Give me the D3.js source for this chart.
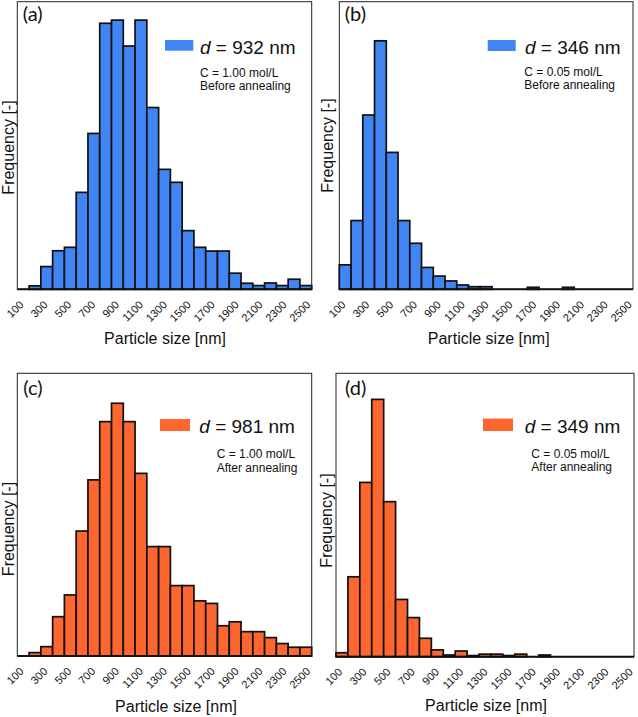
<!DOCTYPE html>
<html>
<head>
<meta charset="utf-8">
<script src="https://cdn.jsdelivr.net/npm/d3@7"></script>
<style>
  html, body { margin: 0; padding: 0; background: #fff; }
  svg { display: block; }
</style>
</head>
<body>
<svg id="chart" width="638" height="717"></svg>
<script>
// ---------------- data ----------------
const bins = [100,200,300,400,500,600,700,800,900,1000,1100,1200,1300,1400,1500,1600,1700,1800,1900,2000,2100,2200,2300,2400,2500];
const tickLabels = ["100","300","500","700","900","1100","1300","1500","1700","1900","2100","2300","2500"];

// relative frequency (arbitrary units, 100 = top of the frame)
const freqA = [0,1.2,7.9,13.4,14.6,33.7,54.2,92.5,93.6,84.6,93.6,63.2,41.7,37.2,20.4,14.6,13.3,13.3,5.6,2.1,1.3,2.2,1.3,3.5,1.3];
const freqB = [8.5,23.9,60.6,86.4,47.6,23.9,16.0,7.6,4.6,2.9,1.5,0.9,0.9,0,0,0,0.7,0,0,0.7,0,0,0,0,0];
const freqC = [0,1.2,3.3,13.9,21.6,44.2,62.3,82.9,89.4,82.9,64.6,38.7,38.7,24.9,24.9,19.5,18.6,10.7,12.1,8.6,8.6,6.5,4.4,3.1,3.1];
const freqD = [1.4,28.2,61.5,90.8,54.7,20.2,13.8,6.5,2.4,0.6,2.0,0.4,0.9,0.9,0.4,0.9,0,0.6,0,0,0,0,0,0,0];

const panelLetters = ["(a)","(b)","(c)","(d)"];
const meanSizes = ["932","346","981","349"];
const concentrations = ["C = 1.00 mol/L","C = 0.05 mol/L","C = 1.00 mol/L","C = 0.05 mol/L"];
const conditions = ["Before annealing","Before annealing","After annealing","After annealing"];
const xTitle = "Particle size [nm]";
const yTitle = "Frequency [-]";

// ---------------- layout / style ----------------
const BLUE = "#4184f3";
const ORANGE = "#fe6630";
const FONT = "'Liberation Sans', Arial, Helvetica, sans-serif";

const layout = [
  {data: freqA, color: BLUE,   x0: 17.3,  x1: 311.7, y0: 1.7,   y1: 289.3,
   letter: [22.7, 21], rect: [165, 40, 28.3, 10.7], dtxt: [200, 53.5], ctxt: [200, 76.5], ntxt: [200, 89.5],
   xt: [165, 344], yt: [13.5, 147.5]},
  {data: freqB, color: BLUE,   x0: 339.3, x1: 633,   y0: 1.7,   y1: 289.3,
   letter: [344.7, 21], rect: [487.7, 40, 28, 11], dtxt: [525, 53.5], ctxt: [524.3, 76], ntxt: [524.3, 89],
   xt: [488.7, 344], yt: [333, 145.5]},
  {data: freqC, color: ORANGE, x0: 17.3,  x1: 311.7, y0: 373.3, y1: 656,
   letter: [23.3, 394.5], rect: [160, 419, 30, 12], dtxt: [199.3, 433.3], ctxt: [216.7, 458.3], ntxt: [216.7, 471.5],
   xt: [176, 712], yt: [13.5, 529]},
  {data: freqD, color: ORANGE, x0: 336,   x1: 634,   y0: 373.3, y1: 656.7,
   letter: [345, 394.5], rect: [483, 418.5, 30, 12.5], dtxt: [524.7, 433.3], ctxt: [531.3, 458], ntxt: [531.3, 471],
   xt: [486, 711], yt: [332, 520.5]}
];

const svg = d3.select("#chart");

layout.forEach((p, i) => {
  const g = svg.append("g");
  const x = d3.scaleBand().domain(bins).range([p.x0, p.x1]).padding(0);
  const y = d3.scaleLinear().domain([0, 100]).range([p.y1, p.y0]);

  // frame
  g.append("rect")
    .attr("x", p.x0).attr("y", p.y0)
    .attr("width", p.x1 - p.x0).attr("height", p.y1 - p.y0)
    .attr("fill", "none").attr("stroke", "#222").attr("stroke-width", 1);

  // bars
  g.selectAll("rect.bar")
    .data(bins.map((b, k) => ({bin: b, v: p.data[k]})).filter(d => d.v > 0))
    .join("rect")
    .attr("class", "bar")
    .attr("x", d => x(d.bin))
    .attr("width", x.bandwidth())
    .attr("y", d => y(d.v))
    .attr("height", d => y(0) - y(d.v))
    .attr("fill", p.color)
    .attr("stroke", "#111")
    .attr("stroke-width", 1.7);

  // baseline
  g.append("line")
    .attr("x1", p.x0).attr("x2", p.x1)
    .attr("y1", y(0)).attr("y2", y(0))
    .attr("stroke", "#111").attr("stroke-width", 2);

  // tick labels (rotated)
  const lx = d3.scaleLinear().domain([100, 2500]).range([p.x0 + 7, p.x1 - 0.5]);
  g.selectAll("text.tick")
    .data(tickLabels)
    .join("text")
    .attr("class", "tick")
    .attr("transform", d => `translate(${lx(+d)},${p.y1 + 16}) rotate(-45)`)
    .attr("text-anchor", "end")
    .attr("font-family", FONT)
    .attr("font-size", 11)
    .attr("fill", "#111")
    .text(d => d);

  // axis titles
  g.append("text")
    .attr("x", p.xt[0]).attr("y", p.xt[1])
    .attr("text-anchor", "middle")
    .attr("font-family", FONT).attr("font-size", 16).attr("fill", "#111")
    .text(xTitle);
  g.append("text")
    .attr("transform", `translate(${p.yt[0]},${p.yt[1]}) rotate(-90)`)
    .attr("text-anchor", "middle")
    .attr("font-family", FONT).attr("font-size", 16).attr("fill", "#111")
    .text(yTitle);

  // panel letter
  g.append("text")
    .attr("x", p.letter[0]).attr("y", p.letter[1])
    .attr("font-family", "Lato, 'Open Sans', sans-serif").attr("font-size", 20).attr("fill", "#111")
    .text(panelLetters[i]);

  // legend
  g.append("rect")
    .attr("x", p.rect[0]).attr("y", p.rect[1])
    .attr("width", p.rect[2]).attr("height", p.rect[3])
    .attr("fill", p.color);
  const dt = g.append("text")
    .attr("x", p.dtxt[0]).attr("y", p.dtxt[1])
    .attr("font-family", FONT).attr("font-size", 19).attr("fill", "#111");
  dt.append("tspan").attr("font-style", "italic").text("d");
  dt.append("tspan").text(" = " + meanSizes[i] + " nm");

  g.append("text")
    .attr("x", p.ctxt[0]).attr("y", p.ctxt[1])
    .attr("font-family", FONT).attr("font-size", 12).attr("fill", "#111")
    .text(concentrations[i]);
  g.append("text")
    .attr("x", p.ntxt[0]).attr("y", p.ntxt[1])
    .attr("font-family", FONT).attr("font-size", 12).attr("fill", "#111")
    .text(conditions[i]);
});
</script>
</body>
</html>
